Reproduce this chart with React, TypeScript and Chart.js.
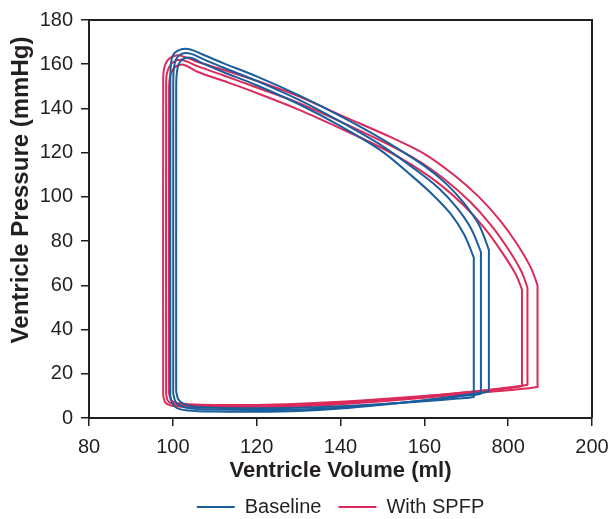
import { useEffect, useRef } from 'react';
import { Chart, registerables } from 'chart.js';

Chart.register(...registerables);

// Axis ticks (the original figure labels the 180 tick as "800")
const xTickValues = [80, 100, 120, 140, 160, 180, 200];
const xTickLabels = ['80', '100', '120', '140', '160', '800', '200'];
const yTickValues = [0, 20, 40, 60, 80, 100, 120, 140, 160, 180];

const seriesNames = ['Baseline', 'With SPFP'];
const xTitle = 'Ventricle Volume (ml)';
const yTitle = 'Ventricle Pressure (mmHg)';

// Baseline loops (volume ml, pressure mmHg)
const baseline1Vol = [100.8, 101.3, 102.5, 105, 110, 120, 130, 140, 150, 160, 168, 171.8, 171.8, 171.8, 171.8, 169.5, 166.2, 162, 157, 150, 140, 130, 120, 112, 107, 104.5, 102.6, 101.4, 100.9, 100.8, 100.8];
const baseline1Prs = [12, 8.5, 6.5, 5.2, 4.6, 4.4, 4.6, 5.3, 6.3, 7.6, 8.8, 9.5, 10.5, 71.5, 72.5, 83, 92.5, 101, 109.5, 120.5, 132, 142, 150.5, 156.5, 160.5, 162.8, 162.6, 160, 155, 148, 12];

const baseline2Vol = [100.1, 100.6, 101.8, 104.5, 110, 120, 130, 140, 150, 160, 169, 173.5, 173.5, 173.5, 173.5, 171.2, 167.8, 163.7, 158.5, 150, 140, 130, 120, 112, 107, 104.2, 102, 100.7, 100.2, 100.1, 100.1];
const baseline2Prs = [11, 7.5, 5.5, 4.3, 3.8, 3.6, 3.9, 4.8, 6.2, 7.9, 9.9, 11, 12, 74, 75, 85.5, 95, 103.5, 111.5, 123, 134, 144, 152.5, 158.5, 162.5, 164.8, 164.6, 162, 157, 150, 11];

const baseline3Vol = [99.4, 99.9, 101, 103.5, 110, 120, 130, 140, 150, 160, 170, 175.4, 175.4, 175.4, 175.4, 173, 169.3, 165.2, 160, 150, 140, 130, 120, 112, 107, 104, 101.6, 100, 99.5, 99.4, 99.4];
const baseline3Prs = [10, 6.5, 4.5, 3.4, 2.9, 2.8, 3.2, 4.3, 6, 8, 10.5, 12, 13, 75, 76, 87.5, 97.5, 106, 114, 126, 136.5, 146, 154.5, 160.5, 164.5, 166.8, 166.5, 164, 159, 152, 10];

// With SPFP loops
const spfp1Vol = [99.1, 99.6, 101, 104, 110, 120, 130, 140, 150, 160, 170, 180, 183.3, 183.3, 183.3, 183.3, 181.8, 178.5, 174.5, 169.5, 163.5, 157, 150, 140, 130, 120, 112, 106, 102.5, 100.4, 99.3, 99.1, 99.1];
const spfp1Prs = [11, 8, 6.8, 6.2, 5.9, 5.9, 6.4, 7.3, 8.6, 10, 11.6, 13.5, 14.5, 15.5, 57, 58, 65, 75, 85.5, 96, 106, 114.5, 122, 131, 139.5, 147, 152.5, 156.5, 159.8, 158.5, 154, 148, 11];

const spfp2Vol = [98.4, 98.9, 100.3, 103.3, 110, 120, 130, 140, 150, 160, 170, 180, 184.6, 184.6, 184.6, 184.6, 183.1, 179.8, 175.8, 170.8, 164.8, 158, 150, 140, 130, 120, 112, 106, 102, 99.8, 98.6, 98.4, 98.4];
const spfp2Prs = [10.5, 7.5, 6.2, 5.6, 5.3, 5.3, 5.8, 6.8, 8.2, 9.8, 11.6, 13.8, 15, 16, 58, 59, 66.5, 77, 87.5, 98, 108, 117, 125, 134, 142.5, 149.5, 155, 159, 162, 160.5, 156, 150, 10.5];

const spfp3Vol = [97.7, 98.2, 99.6, 102.6, 110, 120, 130, 140, 150, 160, 170, 180, 187, 187, 187, 187, 185.4, 182, 178, 173, 167, 160, 152, 140, 130, 120, 112, 106, 101.5, 99.1, 97.9, 97.7, 97.7];
const spfp3Prs = [10, 7, 5.6, 5, 4.7, 4.7, 5.2, 6.2, 7.6, 9.2, 10.9, 12.6, 14, 15, 59, 60, 68, 79, 89.5, 100, 110, 119.5, 127, 137, 145.5, 152.5, 157.5, 161, 164, 162.5, 158, 151, 10];

const BLUE = '#1a5e9c';
const RED = '#dc2a5a';
const INK = '#231f20';
const FONT = "'Liberation Sans', Arial, Helvetica, sans-serif";

const toPoints = (xs: number[], ys: number[]) => xs.map((x, i) => ({ x, y: ys[i] }));

const framePlugin = {
  id: 'frame',
  afterDatasetsDraw(chart: any) {
    const { ctx, chartArea } = chart;
    ctx.save();
    ctx.strokeStyle = INK;
    ctx.lineWidth = 2;
    ctx.beginPath();
    ctx.moveTo(chartArea.left, chartArea.top);
    ctx.lineTo(chartArea.right, chartArea.top);
    ctx.lineTo(chartArea.right, chartArea.bottom);
    ctx.stroke();
    ctx.restore();
  },
};

// y-axis title placed as in the original figure (slightly above the plot centre)
const yTitlePlugin = {
  id: 'yTitle',
  afterDraw(chart: any) {
    const { ctx, chartArea } = chart;
    ctx.save();
    ctx.translate(21, (chartArea.top + chartArea.bottom) / 2 - 29);
    ctx.rotate(-Math.PI / 2);
    ctx.fillStyle = INK;
    ctx.font = `bold 24px ${FONT}`;
    ctx.textAlign = 'center';
    ctx.textBaseline = 'middle';
    ctx.fillText(yTitle, 0, 0);
    ctx.restore();
  },
};

export default function App() {
  const ref = useRef<HTMLCanvasElement | null>(null);

  useEffect(() => {
    if (!ref.current) return;
    const loops = [
      { name: seriesNames[0], color: BLUE, xs: baseline1Vol, ys: baseline1Prs },
      { name: seriesNames[0], color: BLUE, xs: baseline2Vol, ys: baseline2Prs },
      { name: seriesNames[0], color: BLUE, xs: baseline3Vol, ys: baseline3Prs },
      { name: seriesNames[1], color: RED, xs: spfp1Vol, ys: spfp1Prs },
      { name: seriesNames[1], color: RED, xs: spfp2Vol, ys: spfp2Prs },
      { name: seriesNames[1], color: RED, xs: spfp3Vol, ys: spfp3Prs },
    ];
    const chart = new Chart(ref.current, {
      type: 'scatter',
      data: {
        datasets: loops.map((l) => ({
          label: l.name,
          data: toPoints(l.xs, l.ys),
          showLine: true,
          borderColor: l.color,
          backgroundColor: l.color,
          borderWidth: 2,
          pointRadius: 0,
          pointHoverRadius: 0,
          tension: 0.3,
          fill: false,
        })),
      },
      options: {
        responsive: false,
        animation: false,
        layout: { padding: { top: 20, right: 18, left: 0, bottom: -8 } },
        plugins: {
          tooltip: { enabled: false },
          legend: {
            position: 'bottom',
            fullSize: false,
            labels: {
              filter: (item: any) => item.datasetIndex === 0 || item.datasetIndex === 3,
              usePointStyle: true,
              pointStyle: 'line',
              pointStyleWidth: 38,
              color: INK,
              font: { family: FONT, size: 20 },
              padding: 17,
            },
          },
        },
        scales: {
          x: {
            type: 'linear',
            min: 80,
            max: 200,
            afterFit: (s: any) => { s.height = 62; s.paddingRight = 18; s.paddingLeft = 0; },
            afterBuildTicks: (s: any) => { s.ticks = xTickValues.map((v) => ({ value: v })); },
            ticks: {
              color: INK,
              font: { family: FONT, size: 20 },
              padding: 9,
              callback: (v: any) => {
                const i = xTickValues.indexOf(Number(v));
                return i >= 0 ? xTickLabels[i] : '';
              },
            },
            grid: { drawOnChartArea: false, drawTicks: true, tickLength: 8, color: INK, lineWidth: 1.5 },
            border: { display: true, color: INK, width: 2 },
            title: {
              display: true,
              text: xTitle,
              color: INK,
              font: { family: FONT, size: 22, weight: 'bold' },
              padding: { top: 0, bottom: -4 },
            },
          },
          y: {
            type: 'linear',
            min: 0,
            max: 180,
            afterFit: (s: any) => { s.width = 89; },
            afterBuildTicks: (s: any) => { s.ticks = yTickValues.map((v) => ({ value: v })); },
            ticks: {
              color: INK,
              font: { family: FONT, size: 20 },
              padding: 8,
            },
            grid: { drawOnChartArea: false, drawTicks: true, tickLength: 8, color: INK, lineWidth: 1.5 },
            border: { display: true, color: INK, width: 2 },
            title: { display: false },
          },
        },
      },
      plugins: [framePlugin, yTitlePlugin],
    } as any);
    return () => chart.destroy();
  }, []);

  return (
    <div style={{ position: 'fixed', left: 0, top: 0, width: 610, height: 519, background: '#fff' }}>
      <canvas ref={ref} width={610} height={519} />
    </div>
  );
}
